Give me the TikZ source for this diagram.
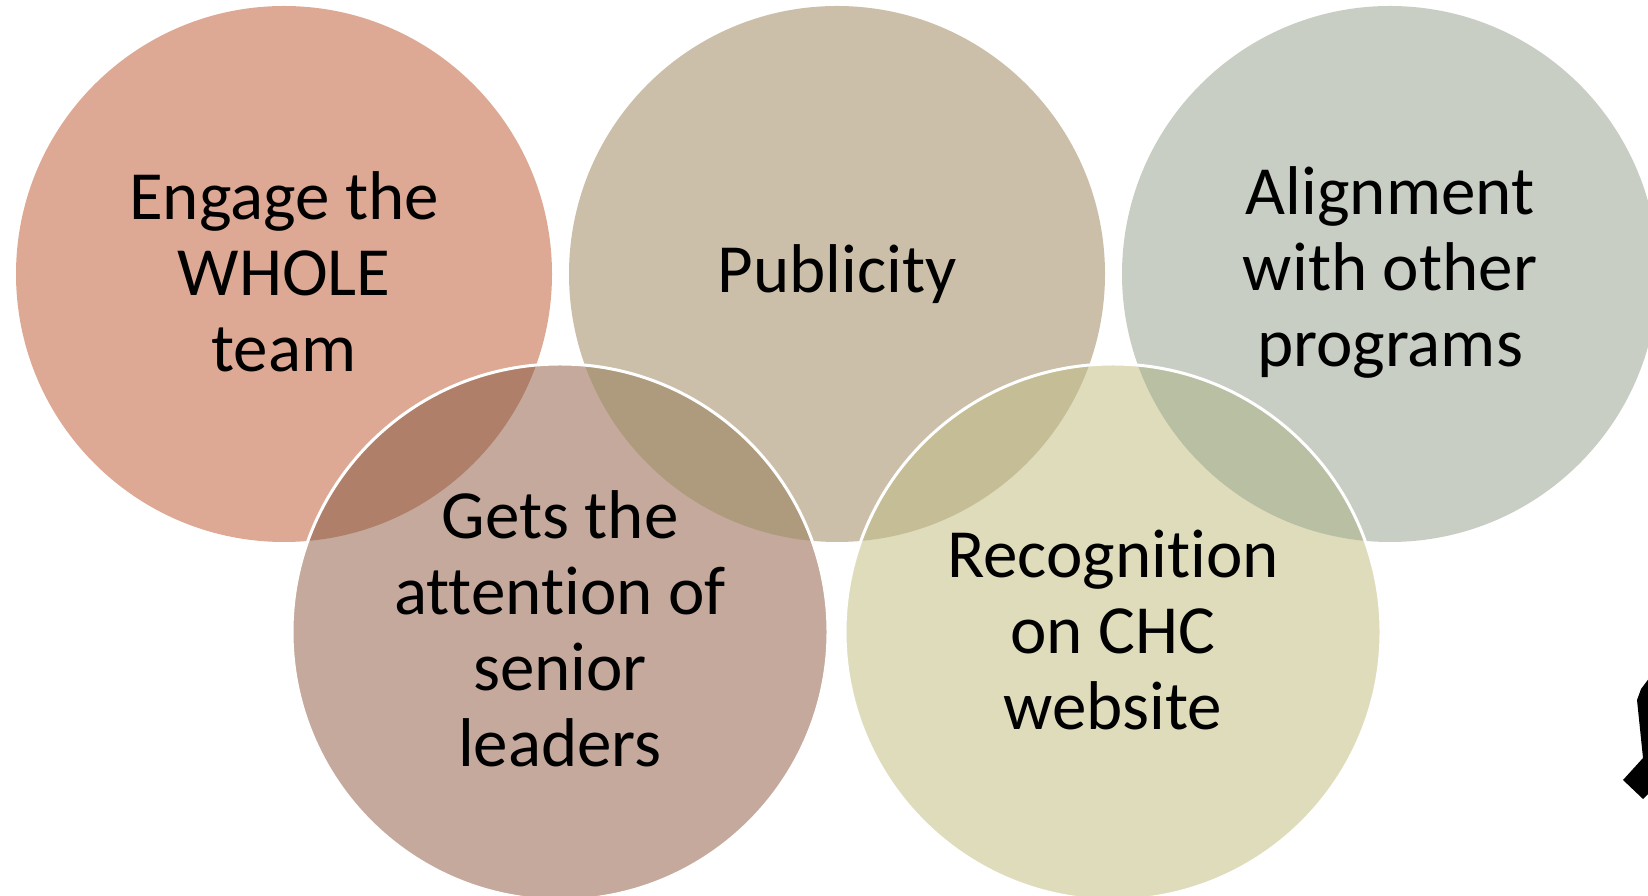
\documentclass[tikz,border=0pt]{standalone}
\usepackage{fontspec}
\setmainfont{Carlito}[Ligatures=NoCommon]
\definecolor{cEngage}{HTML}{DDA994}
\definecolor{cPublic}{HTML}{CCBFA9}
\definecolor{cAlign}{HTML}{C8CEC3}
\definecolor{cGets}{HTML}{C4A99C}
\definecolor{cRecog}{HTML}{DFDCBC}
\definecolor{oEG}{HTML}{AF7F6A}
\definecolor{oPG}{HTML}{AE9A7C}
\definecolor{oPR}{HTML}{C5BD95}
\definecolor{oAR}{HTML}{B9BFA2}
\begin{document}
\begin{tikzpicture}[x=1pt,y=1pt,
  bubble/.style={circle,minimum size=536pt,inner sep=0pt,draw=none},
  label/.style={align=center,font=\fontsize{69}{76}\selectfont,text=black},
  rim/.style={draw=white,line width=3pt}]
\useasboundingbox (0,0) rectangle (1648,896);
\clip (0,0) rectangle (1648,896);
% upper row
\node[bubble,fill=cEngage] (engage) at (284,622) {};
\node[bubble,fill=cPublic] (public) at (837,622) {};
\node[bubble,fill=cAlign]  (align)  at (1390,622) {};
% lower row
\node[bubble,fill=cGets]  (gets)  at (560,264) {};
\node[bubble,fill=cRecog] (recog) at (1113,264) {};
% overlaps
\begin{scope}
  \clip (engage.center) circle (268);
  \fill[oEG] (gets.center) circle (268);
\end{scope}
\begin{scope}
  \clip (public.center) circle (268);
  \fill[oPG] (gets.center) circle (268);
  \fill[oPR] (recog.center) circle (268);
\end{scope}
\begin{scope}
  \clip (align.center) circle (268);
  \fill[oAR] (recog.center) circle (268);
\end{scope}
% white rims of the lower bubbles
\draw[rim] (gets.center) circle (268);
\draw[rim] (recog.center) circle (268);
% labels
\node[label] (tEngage) at ([yshift=2pt]engage.center) {Engage the\\WHOLE\\team};
\node[label] (tPublic) at ([yshift=0pt]public.center) {Publicity};
\node[label] (tAlign)  at ([yshift=2pt]align.center)  {Alignment\\with other\\programs};
\node[label] (tGets)   at ([yshift=3pt]gets.center)   {Gets the\\attention of\\senior\\leaders};
\node[label] (tRecog)  at ([yshift=2pt]recog.center)  {Recognition\\on CHC\\website};
% clipped dark shape at the right edge
\fill[black] (1650,219) -- (1641,207) -- (1637,196) -- (1643,138) -- (1623,116) -- (1643,97) -- (1650,104) -- cycle;
\end{tikzpicture}
\end{document}
